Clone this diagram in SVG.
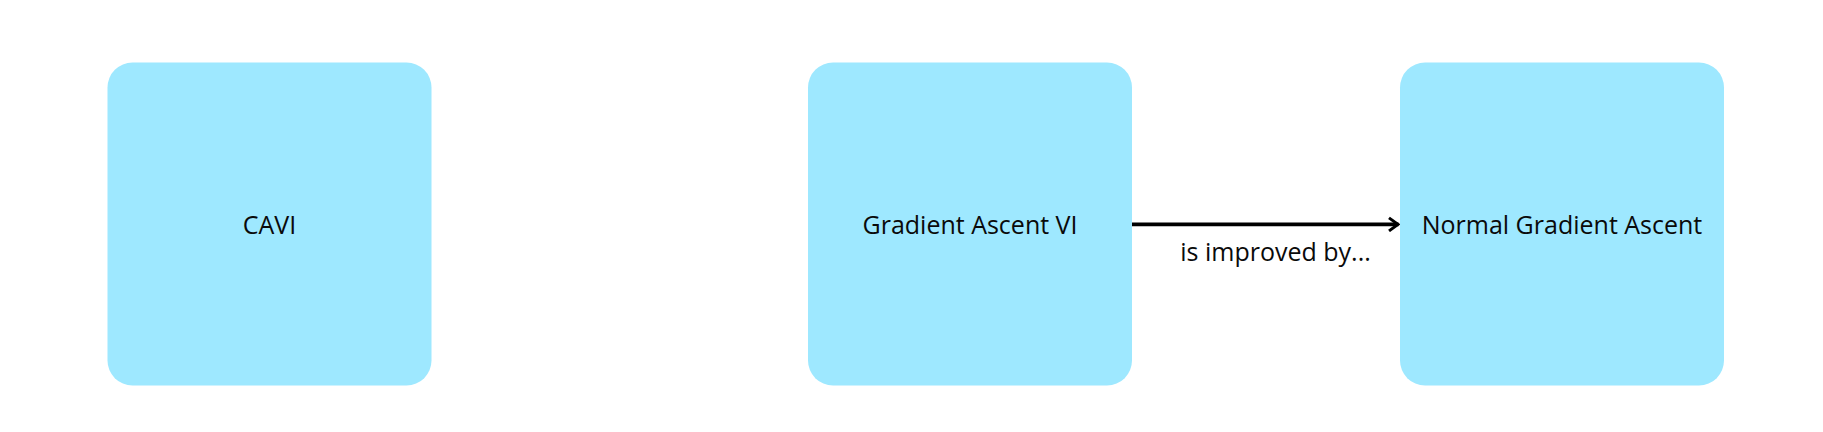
<svg xmlns="http://www.w3.org/2000/svg" width="1823" height="432" viewBox="0 0 1823 432">
<style>
.node{fill:#9EE8FF;}
.lbl{font-family:"Open Sans","Noto Sans",sans-serif;font-size:25px;fill:#0a0a0a;text-anchor:middle;}
.edge{stroke:#000;stroke-width:3.6;fill:none;}
</style>
<defs>
<marker id="arr" viewBox="0 0 12 16" refX="11" refY="8" markerWidth="12" markerHeight="16" markerUnits="userSpaceOnUse" orient="auto">
<polyline points="1.5,1.5 10.5,8 1.5,14.5" fill="none" stroke="#000" stroke-width="3"/>
</marker>
</defs>
<rect width="1823" height="432" fill="#fff"/>
<g id="node-cavi">
<rect class="node" x="107.5" y="62.5" width="324" height="323" rx="25" ry="25"/>
<text class="lbl" x="269.5" y="233.5">CAVI</text>
</g>
<g id="node-gavi">
<rect class="node" x="808" y="62.5" width="324" height="323" rx="25" ry="25"/>
<text class="lbl" x="970" y="233.5">Gradient Ascent VI</text>
</g>
<g id="node-nga">
<rect class="node" x="1400" y="62.5" width="324" height="323" rx="25" ry="25"/>
<text class="lbl" x="1562" y="233.5">Normal Gradient Ascent</text>
</g>
<g id="connectors">
<line class="edge" x1="1132" y1="224.4" x2="1398.5" y2="224.4" marker-end="url(#arr)"/>
<text class="lbl" x="1275.5" y="260.5">is improved by...</text>
</g>
</svg>
